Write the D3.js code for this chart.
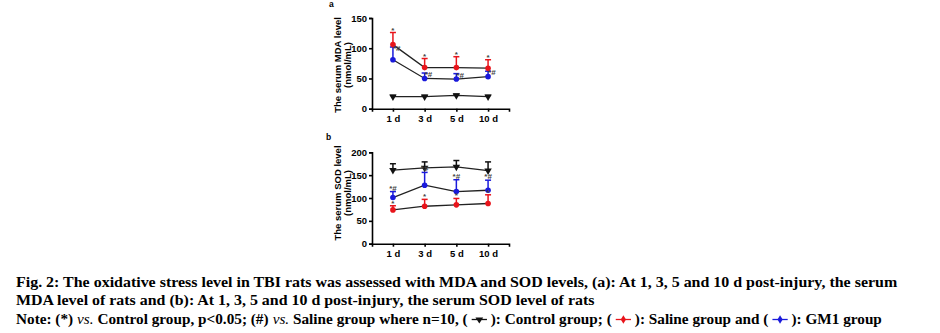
<!DOCTYPE html>
<html>
<head>
<meta charset="utf-8">
<script src="https://cdn.jsdelivr.net/npm/d3@7"></script>
<style>
  body { margin: 0; background: #fff; }
  svg { display: block; }
  .tick text { font-family: Arial, "Liberation Sans", sans-serif; font-weight: bold; }
</style>
</head>
<body>
<svg id="fig" width="940" height="333"></svg>
<script>
const days = ['1 d', '3 d', '5 d', '10 d'];

// MDA (nmol/mL)
const mdaControl = [20, 20, 22, 20];
const mdaControlSd = [2, 2, 2, 2];
const mdaSaline = [106, 68, 68, 67];
const mdaSalineSd = [20, 15, 18, 14];
const mdaGm1 = [81, 50, 49, 53];
const mdaGm1Sd = [21, 9, 9, 9];

// SOD (nmol/mL)
const sodControl = [161, 166, 168, 160];
const sodControlSd = [14, 13, 14, 19];
const sodSaline = [74, 82, 85, 88];
const sodSalineSd = [9, 15, 14, 19];
const sodGm1 = [101, 128, 114, 117];
const sodGm1Sd = [13, 28, 26, 22];

const svg = d3.select('#fig');
const sans = 'Arial, "Liberation Sans", sans-serif';
const serif = '"Times New Roman", "Liberation Serif", serif';

const colors = { control: '#111', saline: '#e8141b', gm1: '#1a1adb' };

function drawPanel(cfg) {
  const g = svg.append('g');
  const x = d3.scalePoint().domain(days).range([372, 509]).padding(0.66);
  const y = d3.scaleLinear().domain([0, cfg.max]).range([cfg.bottom, cfg.top]);

  g.append('g')
    .attr('transform', `translate(372,0)`)
    .call(d3.axisLeft(y).tickValues(cfg.ticks).tickSize(3).tickPadding(2))
    .call(a => a.selectAll('text').attr('font-size', 9.5))
    .call(a => a.selectAll('line,path').attr('stroke', '#000').attr('stroke-width', 1.6));

  g.append('g')
    .attr('transform', `translate(0,${cfg.bottom})`)
    .call(d3.axisBottom(x).tickSizeOuter(0).tickSize(3).tickPadding(4))
    .call(a => a.selectAll('text').attr('font-size', 9.5))
    .call(a => a.selectAll('line,path').attr('stroke', '#000').attr('stroke-width', 1.6));

  g.append('text')
    .attr('transform', `translate(340.5,${cfg.titleY}) rotate(-90)`)
    .attr('text-anchor', 'middle')
    .attr('font-family', sans).attr('font-weight', 'bold').attr('font-size', 9.5)
    .text(cfg.title);
  g.append('text')
    .attr('transform', `translate(351,${cfg.titleY}) rotate(-90)`)
    .attr('text-anchor', 'middle')
    .attr('font-family', sans).attr('font-weight', 'bold').attr('font-size', 9.5)
    .text('(nmol/mL)');

  g.append('text')
    .attr('x', cfg.letterX).attr('y', cfg.letterY)
    .attr('font-family', sans).attr('font-weight', 'bold').attr('font-size', 8.5)
    .text(cfg.letter);

  const line = d3.line().x((d, i) => x(days[i])).y(d => y(d));

  cfg.series.forEach(s => {
    // mean connecting line
    g.append('path')
      .attr('d', line(s.values))
      .attr('fill', 'none')
      .attr('stroke', '#222')
      .attr('stroke-width', 1.3);

    // upper error bars
    s.values.forEach((v, i) => {
      const cx = x(days[i]);
      const top = y(v + s.sd[i]);
      g.append('line')
        .attr('x1', cx).attr('x2', cx)
        .attr('y1', y(v)).attr('y2', top)
        .attr('stroke', s.color).attr('stroke-width', 1.5);
      g.append('line')
        .attr('x1', cx - 3).attr('x2', cx + 3)
        .attr('y1', top).attr('y2', top)
        .attr('stroke', s.color).attr('stroke-width', 1.5);
    });
  });

  // markers on top of lines
  cfg.series.forEach(s => {
    s.values.forEach((v, i) => {
      const cx = x(days[i]), cy = y(v);
      if (s.shape === 'tri') {
        g.append('path')
          .attr('d', d3.symbol(d3.symbolTriangle, 24)())
          .attr('transform', `translate(${cx},${cy}) rotate(180)`)
          .attr('fill', s.color);
      } else {
        g.append('circle')
          .attr('cx', cx).attr('cy', cy).attr('r', 2.8)
          .attr('fill', s.color);
      }
    });
  });

  // significance marks
  cfg.marks.forEach(m => {
    const s = cfg.series[m.series];
    s.values.forEach((v, i) => {
      const cx = x(days[i]);
      const top = y(v + s.sd[i]);
      g.append('text')
        .attr('x', cx + m.dx)
        .attr('y', top + m.dy)
        .attr('text-anchor', m.anchor)
        .attr('font-family', sans).attr('font-size', 8)
        .attr('font-weight', 'bold')
        .attr('fill', '#444')
        .text(m.text);
    });
  });
}

drawPanel({
  letter: 'a', letterX: 329, letterY: 7,
  title: 'The serum MDA level', titleY: 65,
  max: 150, ticks: [0, 50, 100, 150], top: 18, bottom: 108.7,
  series: [
    { values: mdaControl, sd: mdaControlSd, color: colors.control, shape: 'tri' },
    { values: mdaSaline, sd: mdaSalineSd, color: colors.saline, shape: 'dot' },
    { values: mdaGm1, sd: mdaGm1Sd, color: colors.gm1, shape: 'dot' }
  ],
  marks: [
    { series: 1, text: '*', dx: 0, dy: 0, anchor: 'middle' },
    { series: 2, text: '*#', dx: 0, dy: 4, anchor: 'start' }
  ]
});

drawPanel({
  letter: 'b', letterX: 326, letterY: 140,
  title: 'The serum SOD level', titleY: 193,
  max: 200, ticks: [0, 50, 100, 150, 200], top: 152.3, bottom: 243.7,
  series: [
    { values: sodControl, sd: sodControlSd, color: colors.control, shape: 'tri' },
    { values: sodSaline, sd: sodSalineSd, color: colors.saline, shape: 'dot' },
    { values: sodGm1, sd: sodGm1Sd, color: colors.gm1, shape: 'dot' }
  ],
  marks: [
    { series: 1, text: '*', dx: 0, dy: 0, anchor: 'middle' },
    { series: 2, text: '*#', dx: 0, dy: -1, anchor: 'middle' }
  ]
});

// caption, built segment by segment so that legend glyphs can sit inline
const captionLines = [
  { y: 286.5, right: 898, parts: [{ t: 'Fig. 2: The oxidative stress level in TBI rats was assessed with MDA and SOD levels, (a): At 1, 3, 5 and 10 d post-injury, the serum' }] },
  { y: 305, right: 595, parts: [{ t: 'MDA level of rats and (b): At 1, 3, 5 and 10 d post-injury, the serum SOD level of rats' }] },
  { y: 323.5, right: 882, parts: [
    { t: 'Note: (*) ' }, { t: 'vs.', italic: true }, { t: ' Control group, p<0.05; (#) ' }, { t: 'vs.', italic: true },
    { t: ' Saline group where n=10, ( ' }, { sym: 'control' }, { t: ' ): Control group; ( ' }, { sym: 'saline' },
    { t: ' ): Saline group and ( ' }, { sym: 'gm1' }, { t: ' ): GM1 group' }
  ] }
];

const capLeft = 16;
captionLines.forEach(ln => {
  const g = svg.append('g');
  let cx = 0;
  ln.parts.forEach(p => {
    if (p.sym) {
      const w = 14;
      g.append('line')
        .attr('x1', cx).attr('x2', cx + w)
        .attr('y1', -4).attr('y2', -4)
        .attr('stroke', p.sym === 'control' ? '#111' : colors[p.sym])
        .attr('stroke-width', 1.3);
      if (p.sym === 'control') {
        g.append('path')
          .attr('d', d3.symbol(d3.symbolTriangle, 22)())
          .attr('transform', `translate(${cx + w / 2},-4) rotate(180)`)
          .attr('fill', '#111');
      } else {
        g.append('path')
          .attr('d', d3.symbol(d3.symbolDiamond, 20)())
          .attr('transform', `translate(${cx + w / 2},-4)`)
          .attr('fill', colors[p.sym]);
      }
      cx += w;
    } else {
      const t = g.append('text')
        .attr('x', cx).attr('y', 0)
        .attr('font-family', serif)
        .attr('font-size', 14)
        .attr('font-weight', p.italic ? 'normal' : 'bold')
        .attr('font-style', p.italic ? 'italic' : 'normal')
        .attr('xml:space', 'preserve')
        .style('white-space', 'pre')
        .text(p.t);
      cx += t.node().getComputedTextLength();
    }
  });
  // narrow each line to its printed width
  const sx = (ln.right - capLeft) / cx;
  g.attr('transform', `translate(${capLeft},${ln.y}) scale(${sx},1)`);
});
</script>
</body>
</html>
